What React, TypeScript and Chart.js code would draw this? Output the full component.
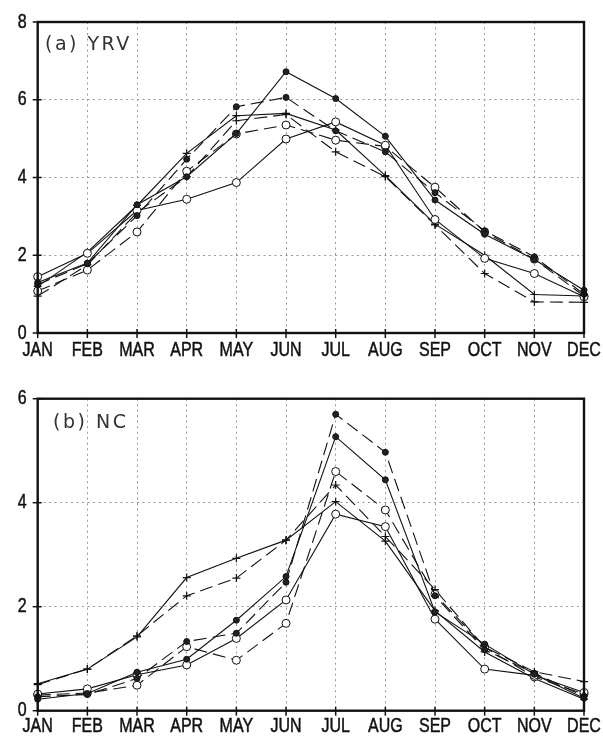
import React, { useEffect, useRef } from 'react';
import { Chart, registerables } from 'chart.js';

Chart.register(...registerables);

const months = ['JAN', 'FEB', 'MAR', 'APR', 'MAY', 'JUN', 'JUL', 'AUG', 'SEP', 'OCT', 'NOV', 'DEC'];

// (a) YRV
const yrvSolidDot = [1.30, 1.80, 3.30, 4.02, 5.13, 6.72, 6.03, 5.06, 3.42, 2.54, 1.89, 1.10];
const yrvDashDot = [1.25, 1.78, 3.02, 4.47, 5.82, 6.06, 5.20, 4.66, 3.61, 2.63, 1.96, 1.00];
const yrvSolidCircle = [1.45, 2.05, 3.15, 3.44, 3.87, 4.99, 5.43, 4.83, 2.92, 1.92, 1.53, 0.93];
const yrvDashCircle = [1.08, 1.62, 2.60, 4.16, 5.12, 5.35, 4.96, 4.80, 3.75, 2.60, 1.90, 0.95];
const yrvSolidPlus = [1.20, 2.08, 3.28, 4.62, 5.59, 5.65, 5.22, 4.05, 2.80, 2.00, 0.99, 0.95];
const yrvDashPlus = [0.95, 1.75, 3.10, 4.02, 5.46, 5.62, 4.66, 4.02, 2.78, 1.53, 0.80, 0.79];

// (b) NC
const ncSolidDot = [0.22, 0.33, 0.74, 0.99, 1.74, 2.58, 5.27, 4.44, 1.90, 1.28, 0.70, 0.24];
const ncDashDot = [0.27, 0.31, 0.62, 1.33, 1.49, 2.47, 5.70, 4.97, 2.21, 1.17, 0.72, 0.28];
const ncSolidCircle = [0.32, 0.42, 0.69, 0.88, 1.39, 2.13, 3.78, 3.54, 1.76, 0.80, 0.68, 0.35];
const ncDashCircle = [0.30, 0.34, 0.49, 1.23, 0.97, 1.68, 4.60, 3.86, 2.24, 1.22, 0.65, 0.32];
const ncSolidPlus = [0.52, 0.80, 1.42, 2.56, 2.93, 3.28, 4.02, 3.26, 1.92, 1.13, 0.62, 0.22];
const ncDashPlus = [0.50, 0.80, 1.44, 2.21, 2.55, 3.28, 4.34, 3.35, 2.33, 1.22, 0.75, 0.56];

const yrvTicks = [0, 2, 4, 6, 8];
const ncTicks = [0, 2, 4, 6];

const TICK_FONT = "'Liberation Sans', Arial, sans-serif";
const TITLE_FONT = "'DejaVu Sans', sans-serif";

type Marker = 'dot' | 'circle' | 'plus';

function makeDataset(data: number[], dashed: boolean, marker: Marker) {
  const base: any = {
    data,
    borderColor: '#111',
    borderWidth: 1.1,
    borderDash: dashed ? [13, 6] : [],
    tension: 0,
    fill: false,
    pointBorderColor: '#111',
    pointBorderWidth: 1,
  };
  if (marker === 'dot') {
    base.pointStyle = 'circle';
    base.pointRadius = 3;
    base.pointBackgroundColor = '#222';
  } else if (marker === 'circle') {
    base.pointStyle = 'circle';
    base.pointRadius = 4;
    base.pointBackgroundColor = '#fff';
  } else {
    base.pointStyle = 'cross';
    base.pointRadius = 4;
    base.pointBorderWidth = 1.2;
    base.pointBackgroundColor = '#111';
  }
  return base;
}

function drawNarrowText(ctx: any, text: string, x: number, y: number, align: 'center' | 'right') {
  const sx = 0.78;
  ctx.save();
  ctx.translate(x, y);
  ctx.scale(sx, 1);
  ctx.font = `20.5px ${TICK_FONT}`;
  ctx.fillStyle = '#111';
  ctx.strokeStyle = '#111';
  ctx.lineWidth = 0.5;
  ctx.textBaseline = 'middle';
  ctx.textAlign = align;
  ctx.fillText(text, 0, 0);
  ctx.strokeText(text, 0, 0);
  ctx.restore();
}

const framePlugin = {
  id: 'frame',
  afterDatasetsDraw(chart: any, _args: any, opts: any) {
    const { ctx, chartArea } = chart;
    const { left, right, top, bottom } = chartArea;
    ctx.save();
    ctx.setLineDash([]);
    ctx.strokeStyle = '#111';
    const xs = chart.scales.x;
    const ys = chart.scales.y;
    // ticks crossing axes
    ctx.lineWidth = 1.5;
    xs.ticks.forEach((_t: any, i: number) => {
      const px = xs.getPixelForTick(i);
      ctx.beginPath();
      ctx.moveTo(px, bottom - 4);
      ctx.lineTo(px, bottom + 5);
      ctx.stroke();
    });
    ys.ticks.forEach((_t: any, i: number) => {
      const py = ys.getPixelForTick(i);
      ctx.beginPath();
      ctx.moveTo(left - 5, py);
      ctx.lineTo(left + 4, py);
      ctx.stroke();
    });
    // frame
    ctx.lineWidth = 2.4;
    ctx.strokeRect(left, top, right - left, bottom - top);
    // tick labels
    xs.ticks.forEach((_t: any, i: number) => {
      const px = xs.getPixelForTick(i);
      drawNarrowText(ctx, String(months[i]), px, bottom + opts.xLabelOffset, 'center');
    });
    ys.ticks.forEach((t: any, i: number) => {
      const py = ys.getPixelForTick(i);
      drawNarrowText(ctx, String(t.value), left - 11, py, 'right');
    });
    // title
    ctx.fillStyle = '#333';
    ctx.font = `19px ${TITLE_FONT}`;
    (ctx as any).letterSpacing = '2.5px';
    ctx.textAlign = 'left';
    ctx.textBaseline = 'middle';
    ctx.fillText(opts.text, opts.x, opts.y);
    ctx.restore();
  },
};

function makeConfig(
  series: number[][],
  ticks: number[],
  padTop: number,
  xHeight: number,
  frameOpts: { text: string; x: number; y: number; xLabelOffset: number }
): any {
  const styles: [boolean, Marker][] = [
    [false, 'dot'],
    [true, 'dot'],
    [false, 'circle'],
    [true, 'circle'],
    [false, 'plus'],
    [true, 'plus'],
  ];
  return {
    type: 'line',
    data: {
      labels: months,
      datasets: series.map((d, i) => makeDataset(d, styles[i][0], styles[i][1])),
    },
    options: {
      responsive: false,
      animation: false,
      events: [],
      layout: { autoPadding: false, padding: { left: 0, right: 19, top: padTop, bottom: 0 } },
      plugins: {
        legend: { display: false },
        title: { display: false },
        tooltip: { enabled: false },
        frame: frameOpts,
      },
      scales: {
        x: {
          type: 'category',
          offset: false,
          grid: { color: '#999', lineWidth: 1, drawTicks: false },
          border: { display: false, dash: [2, 3.5] },
          ticks: { display: false, autoSkip: false, maxRotation: 0 },
          afterFit: (s: any) => {
            s.height = xHeight;
          },
        },
        y: {
          min: ticks[0],
          max: ticks[ticks.length - 1],
          afterBuildTicks: (s: any) => {
            s.ticks = ticks.map((v) => ({ value: v }));
          },
          grid: { color: '#999', lineWidth: 1, drawTicks: false },
          border: { display: false, dash: [2, 3.5] },
          ticks: { display: false },
          afterFit: (s: any) => {
            s.width = 37.7;
          },
        },
      },
    },
    plugins: [framePlugin],
  };
}

function Panel(props: { config: any }) {
  const ref = useRef<HTMLCanvasElement>(null);
  useEffect(() => {
    if (!ref.current) return;
    const chart = new Chart(ref.current, props.config);
    return () => chart.destroy();
  }, []);
  return <canvas ref={ref} width={603} height={369} style={{ display: 'block', width: 603, height: 369 }} />;
}

export default function App() {
  const cfgA = makeConfig(
    [yrvSolidDot, yrvDashDot, yrvSolidCircle, yrvDashCircle, yrvSolidPlus, yrvDashPlus],
    yrvTicks,
    22,
    36,
    { text: '(a) YRV', x: 45, y: 45, xLabelOffset: 17 }
  );
  const cfgB = makeConfig(
    [ncSolidDot, ncDashDot, ncSolidCircle, ncDashCircle, ncSolidPlus, ncDashPlus],
    ncTicks,
    29.7,
    27.3,
    { text: '(b) NC', x: 53, y: 54, xLabelOffset: 15.5 }
  );
  return (
    <div style={{ position: 'absolute', top: 0, left: 0, width: 603, height: 738, background: '#fff' }}>
      <Panel config={cfgA} />
      <Panel config={cfgB} />
    </div>
  );
}
